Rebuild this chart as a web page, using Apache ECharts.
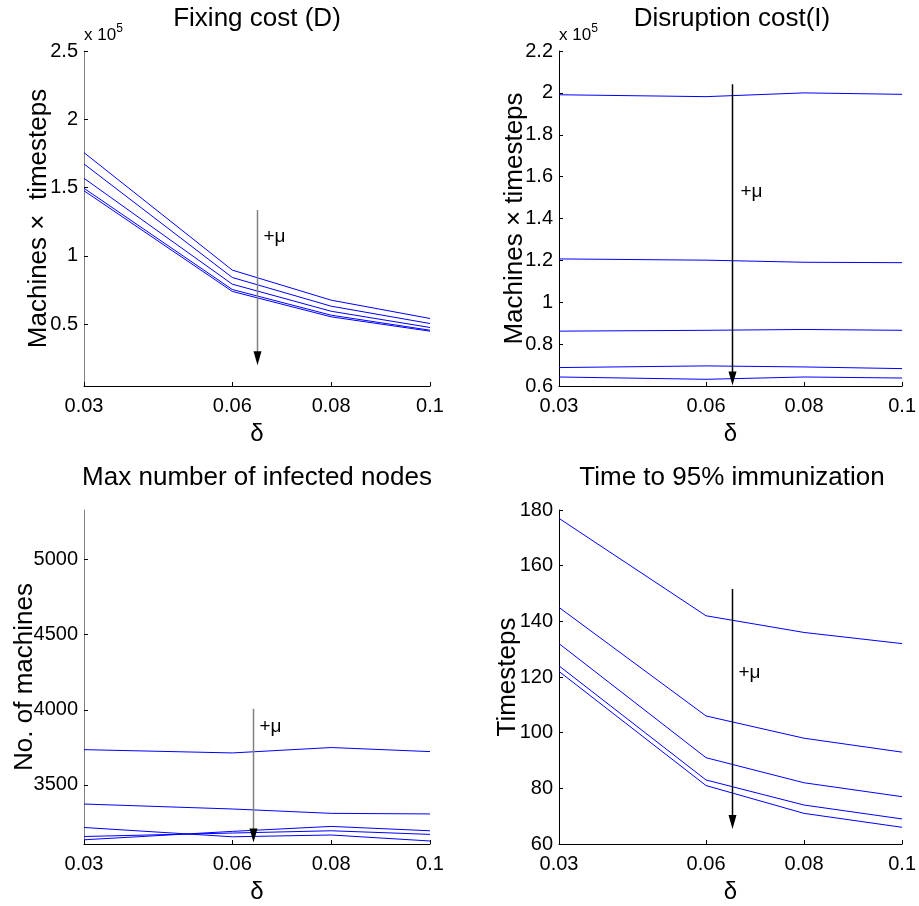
<!DOCTYPE html>
<html><head><meta charset="utf-8">
<script src="https://cdn.jsdelivr.net/npm/echarts@6/dist/echarts.min.js"></script>
<style>html,body{margin:0;padding:0;background:#fff}#c{width:919px;height:906px}</style>
</head><body><div id="c"></div>
<script>
// ---- data ----
const deltas = [0.03, 0.06, 0.08, 0.1];
const xTicks = [0.03, 0.06, 0.08, 0.1];

// Fixing cost (D): machines x timesteps
const fixing1 = [175600, 89600, 67600, 54200];
const fixing2 = [167300, 84200, 63200, 50500];
const fixing3 = [156800, 79300, 59500, 47600];
const fixing4 = [149500, 75400, 56600, 45600];
const fixing5 = [147700, 74000, 55400, 44900];
const fixingTicks = [50000, 100000, 150000, 200000, 250000];

// Disruption cost (I): machines x timesteps
const disrupt1 = [199100, 198200, 200000, 199300];
const disrupt2 = [120700, 120100, 119100, 118900];
const disrupt3 = [86200, 86600, 87000, 86600];
const disrupt4 = [68800, 69600, 69100, 68300];
const disrupt5 = [64300, 63200, 64300, 63800];
const disruptTicks = [60000, 80000, 100000, 120000, 140000, 160000, 180000, 200000, 220000];

// Max number of infected nodes
const infected1 = [3735, 3713, 3749, 3722];
const infected2 = [3373, 3340, 3311, 3307];
const infected3 = [3217, 3155, 3167, 3127];
const infected4 = [3157, 3180, 3195, 3171];
const infected5 = [3135, 3191, 3224, 3195];
const infectedTicks = [3500, 4000, 4500, 5000];

// Time to 95% immunization
const time1 = [177, 142, 136, 132];
const time2 = [145, 106, 98, 93];
const time3 = [132, 91, 82, 77];
const time4 = [124, 83, 74, 69];
const time5 = [122, 81, 71, 66];
const timeTicks = [60, 80, 100, 120, 140, 160, 180];

// ---- styling / layout ----
const FONT = "'Liberation Sans', Arial, sans-serif";
const panels = [
  {title: 'Fixing cost (D)', yName: 'Machines \u00d7  timesteps', series: [fixing1, fixing2, fixing3, fixing4, fixing5],
   ticks: fixingTicks, min: 4770, max: 250000, scale: 1e5, left: 84, top: 51, h: 335, yAxisColor: '#808080', nameGap: 32},
  {title: 'Disruption cost(I)', yName: 'Machines \u00d7 timesteps', series: [disrupt1, disrupt2, disrupt3, disrupt4, disrupt5],
   ticks: disruptTicks, min: 60000, max: 220000, scale: 1e5, left: 559, top: 51, h: 335, yAxisColor: '#000', nameGap: 31},
  {title: 'Max number of infected nodes', yName: 'No. of machines', series: [infected1, infected2, infected3, infected4, infected5],
   ticks: infectedTicks, min: 3107, max: 5330, scale: 1, left: 84, top: 510, h: 334, yAxisColor: '#808080', nameGap: 46},
  {title: 'Time to 95% immunization', yName: 'Timesteps', series: [time1, time2, time3, time4, time5],
   ticks: timeTicks, min: 60, max: 180, scale: 1, left: 559, top: 510, h: 334, yAxisColor: '#000', nameGap: 38}
];

const grid = [], xAxis = [], yAxis = [], series = [], title = [];
panels.forEach((p, i) => {
  grid.push({left: p.left, top: p.top, width: 346, height: p.h});
  title.push({text: p.title, left: p.left + 173, top: p.top - 45, textAlign: 'center', padding: 0,
    textStyle: {fontFamily: FONT, fontSize: 26, fontWeight: 'normal', color: '#000'}});
  xAxis.push({type: 'value', gridIndex: i, min: 0.03, max: 0.1,
    name: '\u03b4', nameLocation: 'middle', nameGap: 36, nameMoveOverlap: false,
    nameTextStyle: {fontFamily: FONT, fontSize: 24, color: '#000'},
    axisLine: {show: true, lineStyle: {color: '#000', width: 1}},
    axisTick: {show: true, inside: true, length: 4, customValues: xTicks, lineStyle: {color: '#000'}},
    axisLabel: {customValues: xTicks, fontFamily: FONT, fontSize: 20, color: '#000', margin: 10,
      formatter: v => String(v)},
    splitLine: {show: false}});
  yAxis.push({type: 'value', gridIndex: i, min: p.min, max: p.max,
    name: p.yName, nameLocation: 'middle', nameGap: p.nameGap, nameMoveOverlap: false,
    nameTextStyle: {fontFamily: FONT, fontSize: 26, color: '#000'},
    axisLine: {show: true, lineStyle: {color: p.yAxisColor, width: 1}},
    axisTick: {show: true, inside: true, length: 4, customValues: p.ticks, lineStyle: {color: '#000'}},
    axisLabel: {customValues: p.ticks, fontFamily: FONT, fontSize: 20, color: '#000', margin: 6,
      formatter: v => String(Math.round(v / p.scale * 1000) / 1000)},
    splitLine: {show: false}});
  p.series.forEach(vals => {
    series.push({type: 'line', xAxisIndex: i, yAxisIndex: i, showSymbol: false, symbol: 'none',
      data: deltas.map((d, k) => [d, vals[k]]),
      lineStyle: {color: '#0000ff', width: 1}, silent: true, animation: false});
  });
});

const chart = echarts.init(document.getElementById('c'), null, {renderer: 'canvas'});
chart.setOption({backgroundColor: '#fff', animation: false, title, grid, xAxis, yAxis, series});

// annotation arrows "+mu" (data-space positions)
const arrows = [
  {grid: 0, x: 0.0651, yStart: 133600, yEnd: 20000, color: '#808080', tx: 6, ty: 27},
  {grid: 1, x: 0.0652, yStart: 204100, yEnd: 60200, color: '#000', tx: 8, ty: 107},
  {grid: 2, x: 0.0641, yStart: 4007, yEnd: 3117, color: '#808080', tx: 6, ty: 18},
  {grid: 3, x: 0.0652, yStart: 151.6, yEnd: 65.4, color: '#000', tx: 6, ty: 84}
];
const graphic = [];
arrows.forEach(a => {
  const p0 = chart.convertToPixel({gridIndex: a.grid}, [a.x, a.yStart]);
  const p1 = chart.convertToPixel({gridIndex: a.grid}, [a.x, a.yEnd]);
  const x = Math.round(p0[0]) + 0.5;
  graphic.push({type: 'line', shape: {x1: x, y1: p0[1], x2: x, y2: p1[1] - 10}, style: {stroke: a.color, lineWidth: 1.5}, z: 100});
  graphic.push({type: 'polygon', shape: {points: [[x - 4, p1[1] - 14], [x + 4, p1[1] - 14], [x, p1[1]]]}, style: {fill: '#000'}, z: 101});
  graphic.push({type: 'text', x: x + a.tx, y: p0[1] + a.ty, style: {text: '+\u03bc', font: '19px ' + FONT, fill: '#000', textVerticalAlign: 'middle'}, z: 101});
});
// exponent labels
[[84, 35], [559, 35]].forEach(([x, y]) => {
  graphic.push({type: 'text', x: x, y: y, style: {text: '{a|x 10}{b|5}', textVerticalAlign: 'middle',
    rich: {a: {fontFamily: FONT, fontSize: 17, color: '#000'}, b: {fontFamily: FONT, fontSize: 12, color: '#000', verticalAlign: 'top', padding: [0, 0, 12, 0]}}}, z: 101});
});
chart.setOption({graphic});
</script></body></html>
